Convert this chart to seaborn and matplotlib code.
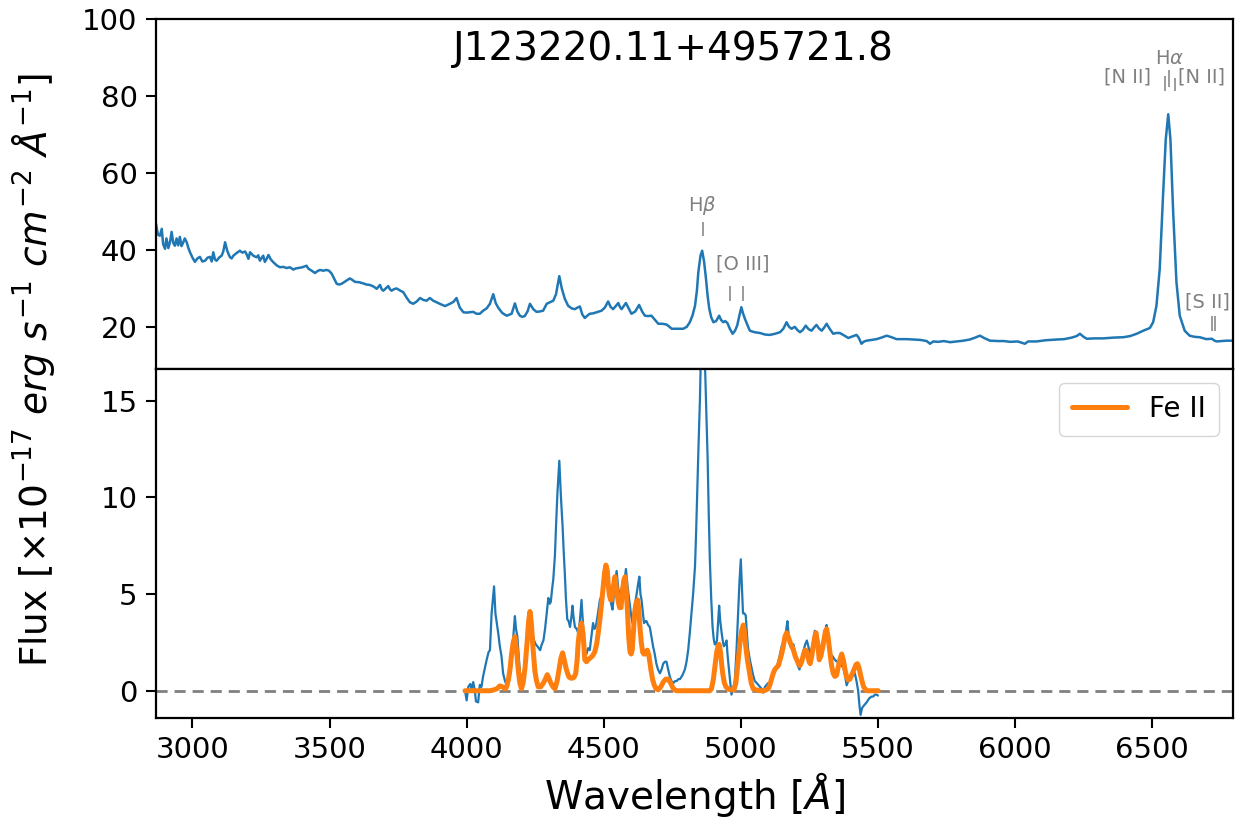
import numpy as np
import pandas as pd
import matplotlib
matplotlib.use("Agg")
import matplotlib.pyplot as plt
import seaborn as sns

# ---------------- observed spectrum (rest frame) ----------------
wave = [2867, 2874, 2881, 2888, 2893, 2900, 2905, 2912, 2918, 2924, 2930, 2936, 2942, 2948,
        2954, 2960, 2966, 2972, 2979, 2985, 2991, 3000, 3009, 3018, 3027, 3036, 3046, 3055,
        3064, 3070, 3076, 3082, 3088, 3097, 3106, 3112, 3119, 3126, 3131, 3137, 3143, 3149,
        3161, 3173, 3182, 3192, 3198, 3204, 3210, 3222, 3234, 3240, 3246, 3252, 3258, 3264,
        3270, 3277, 3286, 3295, 3307, 3319, 3331, 3343, 3355, 3368, 3377, 3386, 3401, 3416,
        3422, 3428, 3437, 3447, 3456, 3465, 3477, 3489, 3498, 3508, 3517, 3526, 3535, 3544,
        3559, 3574, 3583, 3593, 3608, 3623, 3635, 3647, 3660, 3672, 3684, 3690, 3696, 3705,
        3714, 3720, 3726, 3735, 3744, 3756, 3769, 3781, 3793, 3805, 3818, 3830, 3842, 3854,
        3866, 3878, 3890, 3902, 3921, 3939, 3952, 3963, 3975, 3988, 4000, 4012, 4024, 4036,
        4048, 4060, 4073, 4085, 4097, 4106, 4115, 4130, 4146, 4164, 4176, 4185, 4194, 4203,
        4212, 4222, 4231, 4243, 4255, 4267, 4279, 4292, 4304, 4316, 4326, 4338, 4347, 4358,
        4370, 4383, 4395, 4404, 4413, 4422, 4431, 4440, 4449, 4461, 4474, 4492, 4504, 4516,
        4525, 4534, 4544, 4553, 4559, 4565, 4573, 4581, 4591, 4601, 4615, 4629, 4640, 4650,
        4662, 4674, 4687, 4699, 4714, 4729, 4740, 4748, 4769, 4790, 4803, 4814, 4824, 4833,
        4840, 4845, 4853, 4859, 4866, 4873, 4879, 4885, 4892, 4900, 4910, 4921, 4928, 4936,
        4943, 4951, 4960, 4970, 4979, 4987, 4995, 5002, 5008, 5015, 5024, 5033, 5050, 5070,
        5088, 5106, 5125, 5143, 5155, 5167, 5176, 5185, 5197, 5206, 5216, 5226, 5237, 5247,
        5258, 5267, 5276, 5285, 5295, 5304, 5313, 5325, 5337, 5349, 5361, 5376, 5392, 5407,
        5422, 5430, 5440, 5450, 5459, 5477, 5495, 5513, 5532, 5550, 5568, 5587, 5605, 5630,
        5655, 5678, 5690, 5702, 5720, 5741, 5763, 5787, 5812, 5835, 5855, 5872, 5890, 5909,
        5940, 5960, 5982, 6010, 6036, 6048, 6079, 6110, 6152, 6180, 6207, 6225, 6237, 6250,
        6262, 6290, 6322, 6360, 6395, 6420, 6444, 6468, 6492, 6504, 6516, 6528, 6540, 6550,
        6559, 6567, 6577, 6589, 6601, 6619, 6637, 6655, 6674, 6698, 6718, 6728, 6735, 6753,
        6771, 6795]
flux = [46.8, 44.0, 43.7, 45.5, 41.5, 40.3, 43.0, 40.5, 42.0, 44.7, 41.8, 41.1, 43.0, 41.2,
        43.4, 41.0, 41.9, 43.0, 42.0, 40.5, 39.4, 38.0, 36.9, 37.8, 38.2, 37.0, 37.2, 38.0,
        38.2, 37.0, 39.4, 37.5, 37.2, 38.0, 38.5, 39.5, 42.0, 40.0, 39.0, 38.1, 37.8, 38.5,
        39.2, 39.8, 39.3, 39.6, 38.8, 37.7, 39.4, 38.5, 38.1, 38.6, 37.2, 37.9, 38.5, 36.9,
        37.6, 38.7, 37.5, 36.8, 36.0, 35.5, 35.6, 35.3, 35.5, 34.9, 35.2, 35.3, 35.5, 35.9,
        35.2, 34.9, 34.5, 34.0, 34.5, 34.8, 34.6, 34.8, 34.6, 33.8, 32.5, 31.2, 31.0, 31.2,
        31.9, 32.6, 32.2, 31.7, 31.6, 31.3, 31.0, 30.9, 30.5, 29.9, 30.9, 29.8, 29.4, 30.0,
        30.6, 29.8, 29.4, 29.8, 30.0, 29.5, 29.0, 27.6, 26.4, 26.0, 26.6, 27.5, 27.0, 26.8,
        27.5, 26.8, 26.4, 26.0, 25.4, 26.0, 26.5, 27.5, 25.0, 23.8, 23.7, 23.8, 23.9, 23.4,
        23.4, 24.2, 24.8, 26.0, 28.5, 26.2, 25.0, 23.6, 22.9, 23.4, 26.1, 24.0, 22.9, 22.6,
        22.8, 24.0, 26.0, 24.6, 23.9, 24.0, 24.2, 26.0, 26.4, 26.8, 28.5, 33.2, 30.0, 27.3,
        25.5, 24.8, 24.6, 25.0, 25.3, 23.2, 22.3, 22.9, 23.4, 23.5, 23.8, 24.2, 25.0, 26.6,
        25.2, 24.6, 25.4, 26.2, 25.2, 24.6, 25.4, 26.2, 24.8, 23.4, 24.0, 25.7, 24.0, 22.9,
        22.8, 22.9, 21.8, 20.8, 20.8, 20.6, 20.0, 19.5, 19.5, 19.5, 20.0, 21.2, 23.0, 25.5,
        29.5, 34.2, 38.5, 39.8, 37.0, 32.5, 28.0, 24.7, 22.5, 21.2, 21.5, 22.9, 21.8, 21.2,
        21.5, 21.0, 19.5, 18.2, 19.0, 20.4, 23.0, 25.1, 23.5, 22.1, 20.5, 19.0, 18.6, 18.4,
        18.0, 17.9, 18.2, 18.6, 19.5, 21.2, 20.0, 19.5, 20.0, 19.2, 18.6, 19.2, 20.3, 19.4,
        19.0, 19.8, 20.5, 19.6, 19.0, 19.8, 20.8, 19.4, 18.2, 18.4, 18.4, 17.8, 17.1, 17.5,
        17.9, 17.2, 15.6, 16.2, 16.4, 16.6, 16.8, 17.2, 17.7, 17.3, 16.8, 16.8, 16.8, 16.7,
        16.6, 16.3, 15.6, 16.2, 16.1, 16.3, 16.0, 16.2, 16.4, 16.7, 17.2, 17.7, 17.0, 16.4,
        16.3, 16.3, 16.1, 16.2, 15.6, 16.2, 16.2, 16.5, 16.7, 16.8, 17.2, 17.6, 18.2, 17.4,
        16.9, 17.0, 17.0, 17.2, 17.3, 17.6, 18.2, 19.0, 19.7, 21.2, 25.5, 35.1, 54.1, 68.8,
        75.3, 68.8, 49.8, 31.6, 22.9, 19.0, 17.7, 17.4, 17.3, 16.8, 16.9, 16.4, 16.2, 16.3,
        16.4, 16.4]

# ---------------- continuum-subtracted residual, 4000-5500 A ----------------
res_wave = [3994, 4000, 4006, 4013, 4018, 4024, 4030, 4034, 4042, 4048, 4054, 4060, 4067, 4073,
            4080, 4085, 4091, 4100, 4105, 4110, 4116, 4121, 4127, 4133, 4140, 4146, 4152, 4158,
            4163, 4168, 4176, 4180, 4185, 4190, 4194, 4200, 4206, 4213, 4221, 4228, 4234, 4240,
            4246, 4252, 4258, 4268, 4274, 4280, 4286, 4292, 4298, 4303, 4307, 4312, 4316, 4322,
            4326, 4331, 4338, 4344, 4350, 4354, 4358, 4362, 4367, 4372, 4377, 4382, 4386, 4390,
            4395, 4401, 4407, 4413, 4419, 4424, 4428, 4432, 4437, 4443, 4449, 4455, 4461, 4466,
            4471, 4478, 4486, 4492, 4498, 4504, 4510, 4516, 4522, 4527, 4532, 4540, 4547, 4553,
            4559, 4565, 4571, 4576, 4581, 4587, 4593, 4599, 4605, 4612, 4620, 4625, 4630, 4634,
            4638, 4643, 4647, 4652, 4656, 4662, 4668, 4674, 4680, 4686, 4692, 4698, 4705, 4711,
            4717, 4723, 4729, 4735, 4741, 4747, 4754, 4760, 4766, 4772, 4778, 4787, 4796, 4802,
            4808, 4814, 4820, 4826, 4833, 4837, 4841, 4846, 4851, 4856, 4861, 4866, 4871, 4875,
            4879, 4883, 4887, 4892, 4897, 4901, 4905, 4909, 4913, 4917, 4921, 4925, 4930, 4934,
            4938, 4943, 4948, 4952, 4956, 4961, 4966, 4972, 4978, 4984, 4990, 4995, 5000, 5004,
            5008, 5013, 5018, 5022, 5027, 5033, 5039, 5045, 5051, 5058, 5064, 5070, 5076, 5082,
            5088, 5094, 5100, 5106, 5112, 5122, 5131, 5140, 5149, 5155, 5161, 5166, 5170, 5175,
            5180, 5186, 5192, 5197, 5202, 5208, 5214, 5221, 5229, 5235, 5241, 5248, 5255, 5262,
            5270, 5276, 5282, 5290, 5298, 5304, 5309, 5313, 5319, 5325, 5334, 5343, 5351, 5359,
            5367, 5374, 5380, 5386, 5395, 5404, 5410, 5416, 5422, 5428, 5433, 5437, 5442, 5447,
            5453, 5459, 5468, 5477, 5483, 5489, 5495, 5500]
res_flux = [0.0, -0.5, 0.2, 0.35, 0.1, 0.45, 0.0, -0.55, -0.6, 0.3, 0.2, 0.74, 1.2, 1.6,
            2.0, 2.1, 4.0, 5.4, 4.0, 3.5, 2.9, 2.3, 1.8, 0.9, 0.5, 0.3, 0.4, 0.75,
            1.3, 2.4, 3.86, 3.2, 2.8, 1.8, 1.0, 0.6, 0.3, 1.0, 2.5, 3.4, 4.0, 3.0,
            2.6, 2.4, 2.3, 2.1, 2.4, 2.6, 3.2, 4.0, 4.8, 4.5, 4.6, 5.3, 5.76, 7.0,
            8.5, 10.2, 11.9, 10.0, 8.5, 7.2, 6.1, 4.8, 3.7, 3.6, 3.3, 3.8, 4.4, 3.8,
            3.3, 3.2, 3.0, 3.6, 4.7, 3.5, 2.6, 2.1, 1.9, 2.2, 2.1, 2.8, 3.5, 3.2,
            3.3, 3.9, 4.7, 4.9, 5.2, 5.6, 6.1, 5.5, 5.0, 4.5, 4.2, 5.4, 6.2, 5.3,
            4.8, 5.3, 5.2, 5.7, 6.3, 5.4, 4.7, 4.0, 3.5, 4.3, 5.0, 5.5, 5.9, 5.0,
            4.7, 4.0, 3.5, 3.6, 3.6, 3.4, 3.3, 2.8, 2.3, 1.9, 1.4, 1.1, 0.9, 1.1,
            1.4, 1.5, 1.5, 1.1, 0.74, 0.5, 0.4, 0.5, 0.5, 0.6, 0.6, 0.8, 1.1, 1.5,
            2.1, 3.0, 4.0, 5.0, 6.45, 8.2, 10.3, 12.8, 15.1, 18.5, 19.8, 18.6, 16.0, 13.9,
            12.0, 9.2, 6.8, 4.8, 3.3, 2.7, 2.4, 2.4, 2.6, 3.5, 4.4, 3.6, 3.0, 2.6,
            2.3, 2.4, 2.6, 1.8, 1.2, 0.5, -0.2, 0.1, 0.5, 2.0, 4.0, 5.6, 6.8, 5.4,
            4.0, 4.0, 3.9, 3.0, 2.1, 1.6, 1.2, 0.8, 0.5, 0.4, 0.3, 0.2, 0.1, -0.1,
            0.2, 0.3, 0.4, 0.4, 0.5, 0.9, 1.2, 1.7, 2.3, 2.5, 2.6, 3.2, 3.6, 2.8,
            2.3, 2.4, 2.4, 2.0, 1.6, 1.3, 1.1, 1.5, 2.1, 2.4, 2.6, 2.2, 1.9, 2.4,
            3.1, 2.5, 2.1, 2.2, 2.0, 2.5, 3.1, 3.4, 2.6, 1.9, 1.8, 1.6, 1.5, 1.5,
            1.3, 1.2, 0.8, 0.28, 0.6, 0.7, 0.8, 0.9, 0.5, 0.0, -0.8, -1.25, -0.9, -0.8,
            -0.7, -0.6, -0.4, -0.3, -0.3, -0.2, -0.2, -0.25]

# ---------------- Fe II template fit ----------------
fe_wave = [3994, 4085, 4100, 4110, 4121, 4131, 4140, 4146, 4152, 4158, 4164, 4170, 4176, 4182,
           4188, 4194, 4200, 4206, 4213, 4221, 4226, 4231, 4236, 4241, 4249, 4255, 4261, 4270,
           4280, 4287, 4294, 4300, 4307, 4315, 4322, 4330, 4338, 4344, 4350, 4356, 4362, 4368,
           4374, 4380, 4386, 4392, 4398, 4403, 4407, 4413, 4419, 4425, 4431, 4437, 4443, 4451,
           4459, 4467, 4474, 4480, 4486, 4492, 4498, 4503, 4508, 4513, 4517, 4520, 4525, 4529,
           4535, 4541, 4547, 4553, 4558, 4563, 4568, 4573, 4578, 4583, 4587, 4591, 4596, 4600,
           4604, 4609, 4614, 4619, 4624, 4628, 4632, 4637, 4642, 4646, 4651, 4655, 4659, 4665,
           4672, 4678, 4684, 4691, 4699, 4708, 4717, 4726, 4735, 4744, 4754, 4765, 4778, 4887,
           4893, 4900, 4906, 4912, 4917, 4921, 4926, 4930, 4934, 4940, 4946, 4953, 4960, 4975,
           4982, 4987, 4992, 4997, 5003, 5009, 5013, 5018, 5024, 5031, 5038, 5045, 5055, 5070,
           5085, 5100, 5106, 5112, 5118, 5124, 5130, 5137, 5143, 5149, 5155, 5161, 5167, 5173,
           5180, 5186, 5192, 5198, 5204, 5210, 5216, 5222, 5229, 5234, 5238, 5244, 5249, 5253,
           5259, 5264, 5270, 5274, 5280, 5286, 5292, 5298, 5304, 5309, 5313, 5318, 5325, 5331,
           5337, 5343, 5349, 5355, 5361, 5368, 5374, 5380, 5386, 5392, 5398, 5404, 5410, 5416,
           5420, 5425, 5431, 5437, 5443, 5448, 5453, 5460, 5471, 5501]
fe_flux = [0.0, 0.0, 0.05, 0.1, 0.25, 0.2, 0.1, 0.2, 0.55, 1.1, 1.9, 2.5, 2.8, 2.1,
           1.1, 0.4, 0.1, 0.4, 1.2, 2.6, 3.6, 4.1, 3.5, 2.4, 1.0, 0.5, 0.2, 0.2,
           0.4, 0.6, 0.83, 0.65, 0.4, 0.2, 0.1, 0.5, 1.2, 1.7, 1.96, 1.6, 1.2, 0.9,
           0.7, 0.65, 0.65, 0.7, 0.9, 1.6, 2.5, 3.2, 3.5, 2.9, 1.6, 1.5, 1.6, 1.7,
           1.8, 2.0, 2.4, 3.0, 3.7, 4.5, 5.4, 6.1, 6.5, 6.2, 5.4, 5.0, 4.7, 4.7,
           5.4, 5.9, 5.2, 4.6, 4.3, 4.3, 5.1, 5.7, 5.9, 5.0, 4.0, 2.8, 2.0, 1.9,
           2.1, 3.2, 4.2, 4.6, 4.7, 4.2, 3.3, 2.5, 2.0, 1.9, 1.9, 2.0, 2.1, 1.8,
           1.1, 0.6, 0.3, 0.1, 0.05, 0.2, 0.45, 0.6, 0.6, 0.4, 0.1, 0.0, 0.0, 0.0,
           0.1, 0.6, 1.3, 2.0, 2.3, 2.4, 2.0, 1.4, 0.9, 0.4, 0.2, 0.1, 0.05, 0.05,
           0.4, 1.1, 1.8, 2.5, 3.1, 3.4, 3.1, 2.3, 1.6, 1.0, 0.4, 0.1, 0.05, 0.0,
           0.0, 0.1, 0.3, 0.6, 0.9, 1.1, 1.2, 1.3, 1.6, 1.9, 2.3, 2.8, 3.0, 2.8,
           2.5, 2.3, 2.1, 1.8, 1.6, 1.4, 1.3, 1.5, 1.9, 2.1, 2.1, 1.8, 1.5, 1.4,
           1.8, 2.3, 2.8, 3.0, 2.5, 1.6, 1.8, 2.2, 2.7, 3.1, 3.2, 2.8, 2.0, 1.3,
           0.9, 0.74, 0.8, 1.2, 1.6, 1.9, 1.6, 1.1, 0.7, 0.55, 0.6, 0.8, 1.0, 1.2,
           1.35, 1.4, 1.2, 0.8, 0.45, 0.2, 0.1, 0.0, 0.0, 0.0]

# ---------------- emission-line markers ----------------
line_names = ["H$\\beta$", "[O III]", "H$\\alpha$", "[S II]"]
line_label_x = [4861, 5007, 6563, 6703]
line_label_y = [51.5, 36.4, 89.8, 26.4]
tick_waves = [4861, 4959, 5007, 6548, 6563, 6583, 6717, 6731]
tick_lo = [43.6, 26.6, 26.6, 81.3, 82.3, 81.3, 19.0, 19.0]
tick_hi = [47.3, 30.7, 30.7, 85.2, 86.8, 84.8, 22.9, 22.9]
nii_label = "[N II]"
nii_pos = [(6496, 84.9, "right"), (6594, 84.9, "left")]

top_yticks = [20, 40, 60, 80, 100]
bottom_yticks = [0, 5, 10, 15]
x_ticks = [3000, 3500, 4000, 4500, 5000, 5500, 6000, 6500]
object_name = "J123220.11+495721.8"

# ---------------- styling ----------------
sns.set_style("ticks")
plt.rcParams["font.family"] = ["DejaVu Sans"]
plt.rcParams["mathtext.fontset"] = "dejavusans"
plt.rcParams["axes.edgecolor"] = "black"
plt.rcParams["axes.linewidth"] = 1.6
plt.rcParams["text.color"] = "black"
plt.rcParams["axes.labelcolor"] = "black"
plt.rcParams["xtick.color"] = "black"
plt.rcParams["ytick.color"] = "black"

BLUE = "#1f77b4"
ORANGE = "#ff7f0e"
GREY = "#808080"

fig = plt.figure(figsize=(12.36, 8.39), dpi=100)
gs = fig.add_gridspec(2, 1, left=0.126, right=0.9973, top=0.977, bottom=0.144, hspace=0)
ax1 = fig.add_subplot(gs[0])
ax2 = fig.add_subplot(gs[1], sharex=ax1)

spec = pd.DataFrame({"wave": wave, "flux": flux})
res = pd.DataFrame({"wave": res_wave, "flux": res_flux})
fe = pd.DataFrame({"wave": fe_wave, "flux": fe_flux})

# upper panel: full spectrum
sns.lineplot(data=spec, x="wave", y="flux", ax=ax1, color=BLUE, lw=1.8,
             estimator=None, sort=False, legend=False)
ax1.set_ylim(9.1, 100)
ax1.set_yticks(top_yticks)
ax1.set_xlim(2866, 6794)
ax1.tick_params(axis="x", which="both", bottom=False, labelbottom=False)
ax1.set_xlabel("")
ax1.set_ylabel("")
ax1.text(0.481, 0.915, object_name, transform=ax1.transAxes, ha="center", va="center",
         fontsize=28, color="black")

# line identifications
ax1.vlines(tick_waves, tick_lo, tick_hi, color=GREY, lw=1.1)
for name, lx, ly in zip(line_names, line_label_x, line_label_y):
    ax1.text(lx, ly, name, ha="center", va="center", fontsize=14, color=GREY)
for lx, ly, ha in nii_pos:
    ax1.text(lx, ly, nii_label, ha=ha, va="center", fontsize=14, color=GREY)

# lower panel: residual and Fe II template
ax2.axhline(0, color=GREY, lw=2, ls=(0, (4, 2.5)), zorder=1)
sns.lineplot(data=res, x="wave", y="flux", ax=ax2, color=BLUE, lw=1.6,
             estimator=None, sort=False, legend=False)
sns.lineplot(data=fe, x="wave", y="flux", ax=ax2, color=ORANGE, lw=3.6,
             estimator=None, sort=False, label="Fe II")
ax2.set_ylim(-1.42, 16.66)
ax2.set_yticks(bottom_yticks)
ax2.set_xticks(x_ticks)
ax2.set_xlim(2866, 6794)
ax2.set_ylabel("")
ax2.set_xlabel("Wavelength [$\\AA$]", fontsize=28, labelpad=4)
leg = ax2.legend(loc="upper right", fontsize=20, handlelength=2.0, borderpad=0.45,
                 frameon=True)

for ax in (ax1, ax2):
    ax.tick_params(axis="both", labelsize=21, length=7, width=1.5, pad=6, color="black",
                   labelcolor="black")
    for sp in ax.spines.values():
        sp.set_visible(True)
        sp.set_color("black")
        sp.set_linewidth(1.6)

fig.text(0.027, 0.559,
         "Flux [$\\times10^{-17}$ $erg\\ s^{-1}\\ cm^{-2}\\ \\AA^{-1}$]",
         rotation=90, ha="center", va="center", fontsize=27)

fig.savefig("out.png", dpi=100)
